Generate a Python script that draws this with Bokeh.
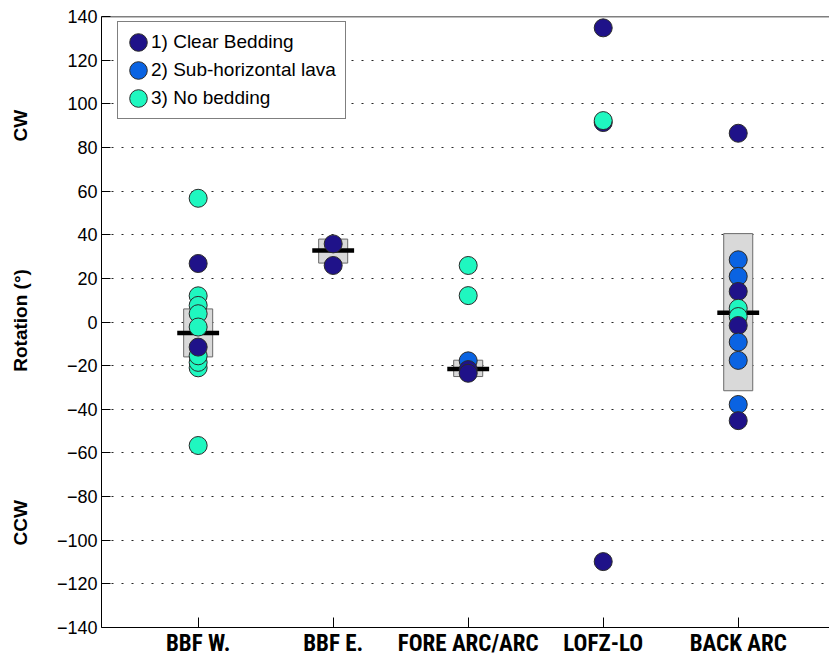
import numpy as np
from bokeh.plotting import figure
from bokeh.models import (ColumnDataSource, Range1d, FixedTicker, Legend,
                          LegendItem, Span, LinearAxis)
from bokeh.embed import file_html
from bokeh.resources import INLINE

# ---------------- data ----------------
sites = ["BBF W.", "BBF E.", "FORE ARC/ARC", "LOFZ-LO", "BACK ARC"]
site_pos = [1, 2, 3, 4, 5]

group_names = ["1) Clear Bedding", "2) Sub-horizontal lava", "3) No bedding"]
group_colors = ["#1f1289", "#0a63e2", "#1ff7c0"]

# points in drawing order: site position, rotation (deg), group index
pt_site = [1, 1, 1, 1, 1, 1, 1, 1, 1, 1, 1,
           2, 2,
           3, 3, 3, 3, 3,
           4, 4, 4, 4,
           5, 5, 5, 5, 5, 5, 5, 5, 5, 5, 5]
pt_rot = [56.7, 26.8, 12.0, 7.6, 3.8, -2.3, -21.0, -18.5, -15.5, -11.5, -56.6,
          35.8, 25.9,
          25.9, 12.1, -17.8, -21.8, -23.5,
          134.8, 91.4, 92.3, -109.8,
          86.5, 28.5, 20.9, 14.0, 6.3, 2.5, -1.6, -9.2, -17.6, -37.8, -45.2]
pt_group = [2, 0, 2, 2, 2, 2, 2, 2, 2, 0, 2,
            0, 0,
            2, 2, 1, 0, 0,
            0, 0, 2, 0,
            0, 1, 1, 0, 2, 2, 0, 1, 1, 1, 0]

# grey boxes and median bars
box_site = [1, 2, 3, 5]
box_low = [-16.0, 27.0, -25.0, -31.5]
box_high = [6.0, 38.0, -17.5, 40.5]
box_median = [-5.0, 32.8, -21.5, 4.2]

y_ticks = [-140, -120, -100, -80, -60, -40, -20, 0, 20, 40, 60, 80, 100, 120, 140]
y_tick_labels = ["\u2212140", "\u2212120", "\u2212100", "\u221280", "\u221260",
                 "\u221240", "\u221220", "0", "20", "40", "60", "80", "100",
                 "120", "140"]

# side texts of the y axis: position (deg) and text
side_pos = [90, 0.7, -92]
side_text = ["CW", "Rotation (\u00b0)", "CCW"]

# ---------------- figure ----------------
FONT = "Liberation Sans"
NARROW = "Roboto Condensed, DejaVu Sans Condensed, Liberation Sans, sans-serif"

FRAME_H = 660 - 16 - 33
p = figure(width=829, height=660,
           x_range=Range1d(0.284, 5.676), y_range=Range1d(-140, 140),
           output_backend="svg", toolbar_location=None,
           min_border_left=101, min_border_right=0,
           min_border_top=16, min_border_bottom=33)
p.outline_line_color = None
p.background_fill_color = "white"
p.border_fill_color = "white"

# grid
p.xgrid.visible = False
p.ygrid.ticker = FixedTicker(ticks=y_ticks[1:-1])
p.ygrid.grid_line_color = "black"
p.ygrid.grid_line_dash = "2 8"
p.ygrid.grid_line_width = 1
p.ygrid.grid_line_alpha = 0.85

# y axis
ya = p.yaxis[0]
ya.ticker = FixedTicker(ticks=y_ticks)
ya.major_label_overrides = dict(zip(y_ticks, y_tick_labels))
ya.major_tick_in = 9
ya.major_tick_out = 0
ya.minor_tick_line_color = None
ya.axis_line_color = "black"
ya.major_tick_line_color = "black"
ya.major_label_text_font = FONT
ya.major_label_text_font_size = "18px"
ya.major_label_text_color = "black"
ya.major_label_standoff = 4

# extra left axis carrying the CW / Rotation / CCW texts
side = LinearAxis(ticker=FixedTicker(ticks=side_pos),
                  major_label_overrides=dict(zip(side_pos, side_text)),
                  major_label_orientation="vertical",
                  axis_line_color=None, major_tick_line_color=None,
                  minor_tick_line_color=None,
                  major_tick_in=0, major_tick_out=0,
                  major_label_standoff=22,
                  major_label_text_font=FONT,
                  major_label_text_font_style="bold",
                  major_label_text_font_size="19px",
                  major_label_text_color="black")
p.add_layout(side, "left")

# x axis
xa = p.xaxis[0]
xa.ticker = FixedTicker(ticks=site_pos)
xa.major_label_overrides = dict(zip(site_pos, sites))
xa.major_tick_in = 10
xa.major_tick_out = 0
xa.minor_tick_line_color = None
xa.axis_line_color = "black"
xa.major_tick_line_color = "black"
xa.major_label_text_font = NARROW
xa.major_label_text_font_style = "bold"
xa.major_label_text_font_size = "23px"
xa.major_label_text_color = "black"
xa.major_label_standoff = 2

# top frame line
p.add_layout(Span(location=140, dimension="width", line_color="black", line_width=1.5))

# boxes
bsrc = ColumnDataSource(dict(
    x=box_site, low=box_low, high=box_high, med=box_median,
    x0=np.array(box_site, dtype=float) - 0.155,
    x1=np.array(box_site, dtype=float) + 0.155))
p.vbar(x="x", width=0.215, bottom="low", top="high", source=bsrc,
       fill_color="#d9d9d9", line_color="#6a6a6a", line_width=1)
p.segment(x0="x0", x1="x1", y0="med", y1="med", source=bsrc,
          line_color="black", line_width=4.5, line_cap="butt")

# points (screen-sized circles)
psrc = ColumnDataSource(dict(
    x=pt_site, y=pt_rot,
    color=[group_colors[g] for g in pt_group]))
r = p.ellipse(x="x", y="y", width=18, height=18,
              width_units="screen", height_units="screen", source=psrc,
              fill_color="color", line_color="#2a2a2a", line_width=1)

# legend
items = []
for g, name in enumerate(group_names):
    idx = pt_group.index(g)
    items.append(LegendItem(label=name, renderers=[r], index=idx))
LEG_H = 2 * 9 + 3 * 22 + 2 * 6
legend = Legend(items=items, location=(16, FRAME_H - 7 - LEG_H))
legend.glyph_width = 22
legend.glyph_height = 22
legend.label_height = 22
legend.spacing = 6
legend.padding = 9
legend.margin = 0
legend.label_standoff = 2
legend.label_text_font = FONT
legend.label_text_font_size = "19px"
legend.label_text_color = "black"
legend.border_line_color = "black"
legend.border_line_width = 1
legend.background_fill_alpha = 1.0
p.add_layout(legend)

open("out.html", "w").write(file_html(p, INLINE))
